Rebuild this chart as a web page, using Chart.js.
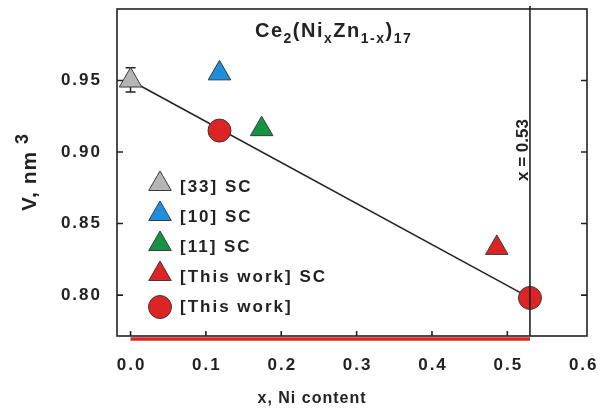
<!DOCTYPE html>
<html>
<head>
<meta charset="utf-8">
<script src="https://cdn.jsdelivr.net/npm/chart.js@4.4.0/dist/chart.umd.min.js"></script>
<style>
  html, body { margin: 0; padding: 0; background: #fff; }
  #wrap { width: 606px; height: 408px; }
</style>
</head>
<body>
<div id="wrap"><canvas id="chart" width="606" height="408"></canvas></div>
<script>
// Ce2(NixZn1-x)17 unit-cell volume against Ni content

const ref33 = [{ x: 0.0, y: 0.950 }];
const ref33Err = [0.942, 0.959];
const ref10 = [{ x: 0.118, y: 0.955 }];
const ref11 = [{ x: 0.174, y: 0.916 }];
const thisWorkSC = [{ x: 0.486, y: 0.833 }];
const thisWork = [{ x: 0.118, y: 0.915 }, { x: 0.53, y: 0.798 }];
const trend = [{ x: 0.0, y: 0.950 }, { x: 0.53, y: 0.798 }];
const limitX = 0.53;
const xTicks = [0.0, 0.1, 0.2, 0.3, 0.4, 0.5, 0.6];
const yTicks = [0.80, 0.85, 0.90, 0.95];

const FONT = 'Liberation Sans, Arial, sans-serif';
const INK = '#222';
const EDGE = '#3a3a3a';

const GREY = '#b5b5b5';
const BLUE = '#1f8fdc';
const GREEN = '#169342';
const RED = '#dc2424';

const legendItems = [
  { text: '[33] SC', style: 'triangle', color: GREY },
  { text: '[10] SC', style: 'triangle', color: BLUE },
  { text: '[11] SC', style: 'triangle', color: GREEN },
  { text: '[This work] SC', style: 'triangle', color: RED },
  { text: '[This work]', style: 'circle', color: RED }
];

function markerSet(label, data, style, color, radius) {
  return {
    label: label,
    data: data,
    pointStyle: style,
    pointRadius: radius,
    pointHoverRadius: radius,
    pointBackgroundColor: color,
    pointBorderColor: EDGE,
    pointBorderWidth: 1,
    showLine: false,
    order: 0
  };
}

// draw a run of text pieces, some lowered (sub) or raised (sup)
function drawRich(ctx, parts, x, y) {
  let cx = x;
  parts.forEach(p => {
    const size = p.sub || p.sup ? p.small : p.size;
    ctx.font = 'bold ' + size + 'px ' + FONT;
    const dy = p.sub ? 6 : (p.sup ? -8 : 0);
    ctx.fillText(p.t, cx, y + dy);
    cx += ctx.measureText(p.t).width;
  });
}

const decor = {
  id: 'decor',
  beforeDatasetsDraw(chart) {
    const { ctx, scales: { x, y } } = chart;
    // error bar on the [33] point
    const px = x.getPixelForValue(ref33[0].x);
    const top = y.getPixelForValue(ref33Err[1]);
    const bot = y.getPixelForValue(ref33Err[0]);
    ctx.save();
    ctx.strokeStyle = INK;
    ctx.lineWidth = 1.5;
    ctx.beginPath();
    ctx.moveTo(px, top); ctx.lineTo(px, bot);
    ctx.moveTo(px - 5, top); ctx.lineTo(px + 5, top);
    ctx.moveTo(px - 5, bot); ctx.lineTo(px + 5, bot);
    ctx.stroke();
    ctx.restore();
  },
  afterDatasetsDraw(chart) {
    const { ctx, chartArea: a, scales: { x, y } } = chart;
    ctx.save();
    ctx.strokeStyle = INK;
    ctx.lineWidth = 1.6;
    ctx.strokeRect(a.left, a.top, a.right - a.left, a.bottom - a.top);

    // inward ticks: bottom, left and right
    ctx.beginPath();
    xTicks.slice(0, 6).forEach(v => {
      const px = x.getPixelForValue(v);
      ctx.moveTo(px, a.bottom); ctx.lineTo(px, a.bottom - 5);
    });
    yTicks.forEach(v => {
      const py = y.getPixelForValue(v);
      ctx.moveTo(a.left, py); ctx.lineTo(a.left + 6, py);
      ctx.moveTo(a.right, py); ctx.lineTo(a.right - 6, py);
    });
    ctx.stroke();

    // composition limit
    const lx = x.getPixelForValue(limitX);
    ctx.beginPath();
    ctx.moveTo(lx, a.top - 3);
    ctx.lineTo(lx, a.bottom);
    ctx.stroke();

    // single-phase range under the axis
    ctx.strokeStyle = RED;
    ctx.lineWidth = 3.5;
    ctx.beginPath();
    ctx.moveTo(x.getPixelForValue(0), a.bottom + 3);
    ctx.lineTo(lx, a.bottom + 3);
    ctx.stroke();
    ctx.restore();
  },
  afterDraw(chart) {
    const { ctx, scales: { x, y } } = chart;
    ctx.save();
    ctx.fillStyle = INK;

    // tick labels, widely spaced
    ctx.letterSpacing = '2px';
    ctx.font = 'bold 17px ' + FONT;
    ctx.textAlign = 'center';
    ctx.textBaseline = 'alphabetic';
    xTicks.forEach(v => {
      ctx.fillText(v.toFixed(1), x.getPixelForValue(v) + 1, 370);
    });
    ctx.textAlign = 'right';
    ctx.textBaseline = 'middle';
    yTicks.forEach(v => {
      ctx.fillText(v.toFixed(2), 102, y.getPixelForValue(v));
    });

    // title with subscripts
    ctx.textAlign = 'left';
    ctx.textBaseline = 'alphabetic';
    ctx.letterSpacing = '1.5px';
    drawRich(ctx, [
      { t: 'Ce', size: 20 },
      { t: '2', sub: true, small: 14 },
      { t: '(Ni', size: 20 },
      { t: 'x', sub: true, small: 14 },
      { t: 'Zn', size: 20 },
      { t: '1-x', sub: true, small: 14 },
      { t: ')', size: 20 },
      { t: '17', sub: true, small: 14 }
    ], 255, 37);

    // vertical label at the limit line
    ctx.letterSpacing = '0px';
    ctx.save();
    ctx.translate(528, 150);
    ctx.rotate(-Math.PI / 2);
    ctx.textAlign = 'center';
    ctx.font = 'bold 17px ' + FONT;
    ctx.fillText('x = 0.53', 0, 0);
    ctx.restore();

    // y axis title
    ctx.save();
    ctx.translate(36, 211);
    ctx.rotate(-Math.PI / 2);
    ctx.letterSpacing = '1px';
    drawRich(ctx, [
      { t: 'V, nm ', size: 21 },
      { t: '3', sup: true, small: 18 }
    ], 0, 0);
    ctx.restore();

    // x axis title
    ctx.letterSpacing = '1px';
    ctx.textAlign = 'center';
    ctx.font = 'bold 16px ' + FONT;
    ctx.fillText('x, Ni content', 312, 403);

    // legend
    ctx.textAlign = 'left';
    ctx.textBaseline = 'middle';
    ctx.letterSpacing = '2px';
    ctx.font = 'bold 17px ' + FONT;
    legendItems.forEach((it, i) => {
      const ty = 187 + i * 30;
      ctx.fillStyle = it.color;
      ctx.strokeStyle = EDGE;
      ctx.lineWidth = 1;
      const r = it.style === 'circle' ? 11.5 : 13;
      Chart.helpers.drawPoint(ctx, { pointStyle: it.style, radius: r, borderWidth: 1, rotation: 0 },
        160, it.style === 'circle' ? ty : ty - 3);
      ctx.fillStyle = INK;
      ctx.fillText(it.text, 180, ty);
    });
    ctx.restore();
  }
};

new Chart(document.getElementById('chart'), {
  type: 'scatter',
  data: {
    datasets: [
      markerSet('[33] SC', ref33, 'triangle', GREY, 13),
      markerSet('[10] SC', ref10, 'triangle', BLUE, 13),
      markerSet('[11] SC', ref11, 'triangle', GREEN, 13),
      markerSet('[This work] SC', thisWorkSC, 'triangle', RED, 13),
      markerSet('[This work]', thisWork, 'circle', RED, 11.5),
      {
        label: 'trend',
        data: trend,
        showLine: true,
        borderColor: INK,
        borderWidth: 1.5,
        pointRadius: 0,
        order: 10
      }
    ]
  },
  options: {
    responsive: false,
    animation: false,
    clip: false,
    layout: { autoPadding: false, padding: { top: 9, right: 19, left: 0, bottom: 0 } },
    plugins: { legend: { display: false }, tooltip: { enabled: false } },
    scales: {
      x: {
        type: 'linear',
        min: -0.018,
        max: 0.6057,
        afterBuildTicks: s => { s.ticks = xTicks.map(v => ({ value: v })); },
        afterFit: s => { s.height = 72; },
        grid: { display: false, drawTicks: false, tickLength: 0 },
        border: { display: false },
        ticks: { display: false }
      },
      y: {
        min: 0.7714,
        max: 1.0,
        afterBuildTicks: s => { s.ticks = yTicks.map(v => ({ value: v })); },
        afterFit: s => { s.width = 117; },
        grid: { display: false, drawTicks: false, tickLength: 0 },
        border: { display: false },
        ticks: { display: false }
      }
    }
  },
  plugins: [decor]
});
</script>
</body>
</html>
